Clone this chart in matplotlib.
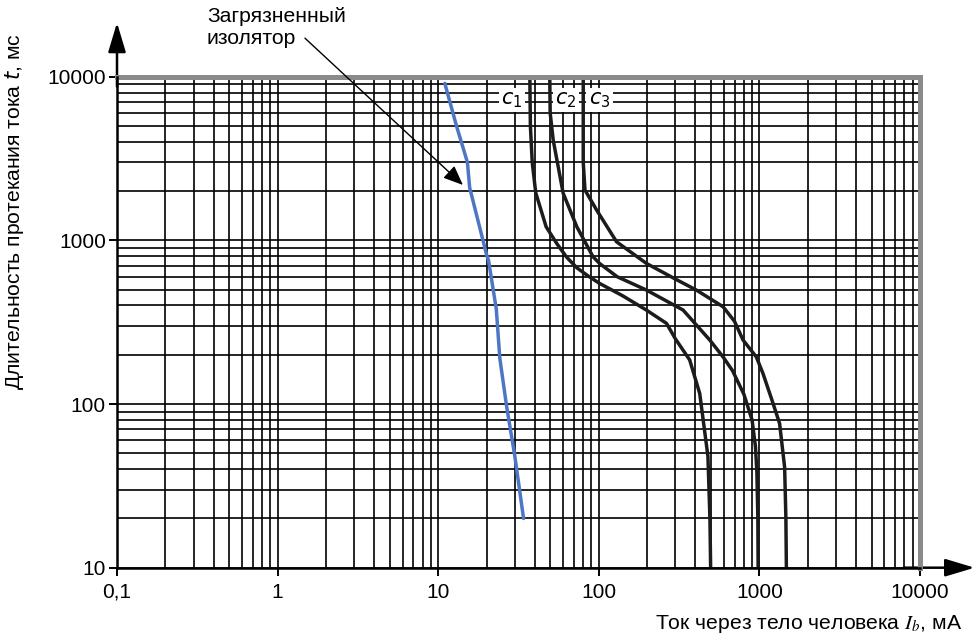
import matplotlib
matplotlib.use('Agg')
import matplotlib.pyplot as plt
from matplotlib import font_manager
from matplotlib.ticker import FixedLocator, NullFormatter, FixedFormatter

_names = {f.name for f in font_manager.fontManager.ttflist}
NARROW = 'Liberation Sans Narrow' in _names
if NARROW:
    plt.rcParams['font.family'] = ['Liberation Sans Narrow', 'Liberation Sans', 'DejaVu Sans']
    TICK_FS, LABEL_FS, ANNOT_FS, C_FS = 17, 16.5, 16.5, 15
else:
    plt.rcParams['font.family'] = ['Liberation Sans', 'DejaVu Sans']
    TICK_FS, LABEL_FS, ANNOT_FS, C_FS = 15, 15.2, 15.2, 15

# ---- data ----
x_ticks = [0.1, 1, 10, 100, 1000, 10000]
x_tick_labels = ['0,1', '1', '10', '100', '1000', '10000']
y_ticks = [10, 100, 1000, 10000]
y_tick_labels = ['10', '100', '1000', '10000']

insulator_I = [11.0, 13.0, 15.2, 15.7, 20.0, 20.6, 23.0, 24.2, 26.7, 30.0, 34.0]
insulator_t = [9100, 5000, 3000, 2100, 820, 750, 380, 190, 96, 48, 20]

c1_I = [37.2, 37.5, 38.5, 40.5, 47, 55, 63, 73, 85, 101, 140, 198, 264, 300, 368, 425, 478, 492, 497]
c1_t = [10000, 5000, 3000, 1950, 1210, 950, 790, 680, 610, 546, 460, 375, 311, 250, 186, 116, 48, 20, 10]

c2_I = [49.5, 49.8, 52, 60, 73, 92, 101, 130, 198, 335, 491, 594, 680, 800, 900, 945, 965, 978, 982]
c2_t = [10000, 6000, 4100, 1940, 1210, 795, 723, 600, 497, 375, 246, 194, 160, 115, 80, 55, 38, 20, 10]

c3_I = [80, 80, 82, 97, 129, 198, 300, 405, 594, 700, 791, 957, 1052, 1200, 1336, 1436, 1462, 1472]
c3_t = [10000, 3000, 2030, 1530, 980, 723, 580, 497, 393, 320, 246, 194, 154, 105, 76, 41, 20, 10]

curve_labels = ['$c_1$', '$c_2$', '$c_3$']
curve_label_I = [28.8, 62.4, 101]
curve_label_t = [7200, 7200, 7200]

annot_text = 'Загрязненный\nизолятор'
annot_from = (1.48, 17200)
annot_to = (14.25, 2180)

# ---- figure ----
fig = plt.figure(figsize=(9.76, 6.42), dpi=100)
ax = fig.add_axes([117 / 976, 1 - 567.7 / 642, 803 / 976, 491 / 642])
ax.set_xscale('log')
ax.set_yscale('log')
ax.set_xlim(0.1, 10000)
ax.set_ylim(10, 10000)

ax.xaxis.set_major_locator(FixedLocator(x_ticks))
ax.xaxis.set_major_formatter(FixedFormatter(x_tick_labels))
ax.yaxis.set_major_locator(FixedLocator(y_ticks))
ax.yaxis.set_major_formatter(FixedFormatter(y_tick_labels))
xminor = [m * 10.0 ** k for k in range(-1, 4) for m in range(2, 10)]
yminor = [m * 10.0 ** k for k in range(1, 4) for m in range(2, 10)]
ax.xaxis.set_minor_locator(FixedLocator(xminor))
ax.yaxis.set_minor_locator(FixedLocator(yminor))
ax.xaxis.set_minor_formatter(NullFormatter())
ax.yaxis.set_minor_formatter(NullFormatter())

ax.grid(which='both', color='black', lw=1.2, zorder=1)
ax.set_axisbelow(True)
ax.tick_params(which='major', direction='out', length=6, width=1.4, labelsize=TICK_FS, pad=2)
ax.tick_params(which='minor', length=0)
ax.tick_params(axis='x', pad=5)

for s in ['top', 'right']:
    ax.spines[s].set_visible(False)
for s in ['left', 'bottom']:
    ax.spines[s].set_linewidth(1.8)
    ax.spines[s].set_zorder(6)

ax.axhline(10000, color='#8a8a8a', lw=3.6, zorder=5, clip_on=False)
ax.axvline(10000, color='#8a8a8a', lw=3.6, zorder=5, clip_on=False)

# axis arrows
ax.annotate('', xy=(0, 1.11), xytext=(0, 0.98), xycoords='axes fraction',
            arrowprops=dict(arrowstyle='-|>,head_length=0.5,head_width=0.15', color='black',
                            lw=1.8, mutation_scale=36, shrinkA=0, shrinkB=0),
            annotation_clip=False)
ax.annotate('', xy=(1.068, 0), xytext=(0.98, 0), xycoords='axes fraction',
            arrowprops=dict(arrowstyle='-|>,head_length=0.5,head_width=0.15', color='black',
                            lw=1.8, mutation_scale=36, shrinkA=0, shrinkB=0),
            annotation_clip=False)

# curves
ax.plot(insulator_I, insulator_t, color='#4d76c4', lw=2.5, zorder=4, solid_capstyle='round')
for I, t in [(c1_I, c1_t), (c2_I, c2_t), (c3_I, c3_t)]:
    ax.plot(I, t, color='#1c1c1c', lw=2.5, zorder=4, solid_joinstyle='round')

for lab, I, t in zip(curve_labels, curve_label_I, curve_label_t):
    ax.text(I, t, lab, fontsize=C_FS, ha='center', va='center', math_fontfamily='dejavusans',
            zorder=3, bbox=dict(boxstyle='square,pad=0.12', fc='white', ec='none'))

ax.annotate('', xy=annot_to, xytext=annot_from,
            arrowprops=dict(arrowstyle='-|>,head_length=0.6,head_width=0.25', color='black',
                            lw=1.0, mutation_scale=20, shrinkA=0, shrinkB=0),
            annotation_clip=False, zorder=7)
fig.text(207 / 976, 1 - 7 / 642, annot_text, fontsize=ANNOT_FS, ha='left', va='top', linespacing=1.2)

fig.text(15 / 976, 1 - 212 / 642, 'Длительность протекания тока $t$, мс', rotation=90,
         fontsize=LABEL_FS, ha='center', va='center', math_fontfamily='dejavusans')
fig.text(962 / 976, 1 - 624 / 642, 'Ток через тело человека $I_b$, мА', fontsize=LABEL_FS,
         ha='right', va='center', math_fontfamily='stix')

fig.savefig('out.png', dpi=100)
